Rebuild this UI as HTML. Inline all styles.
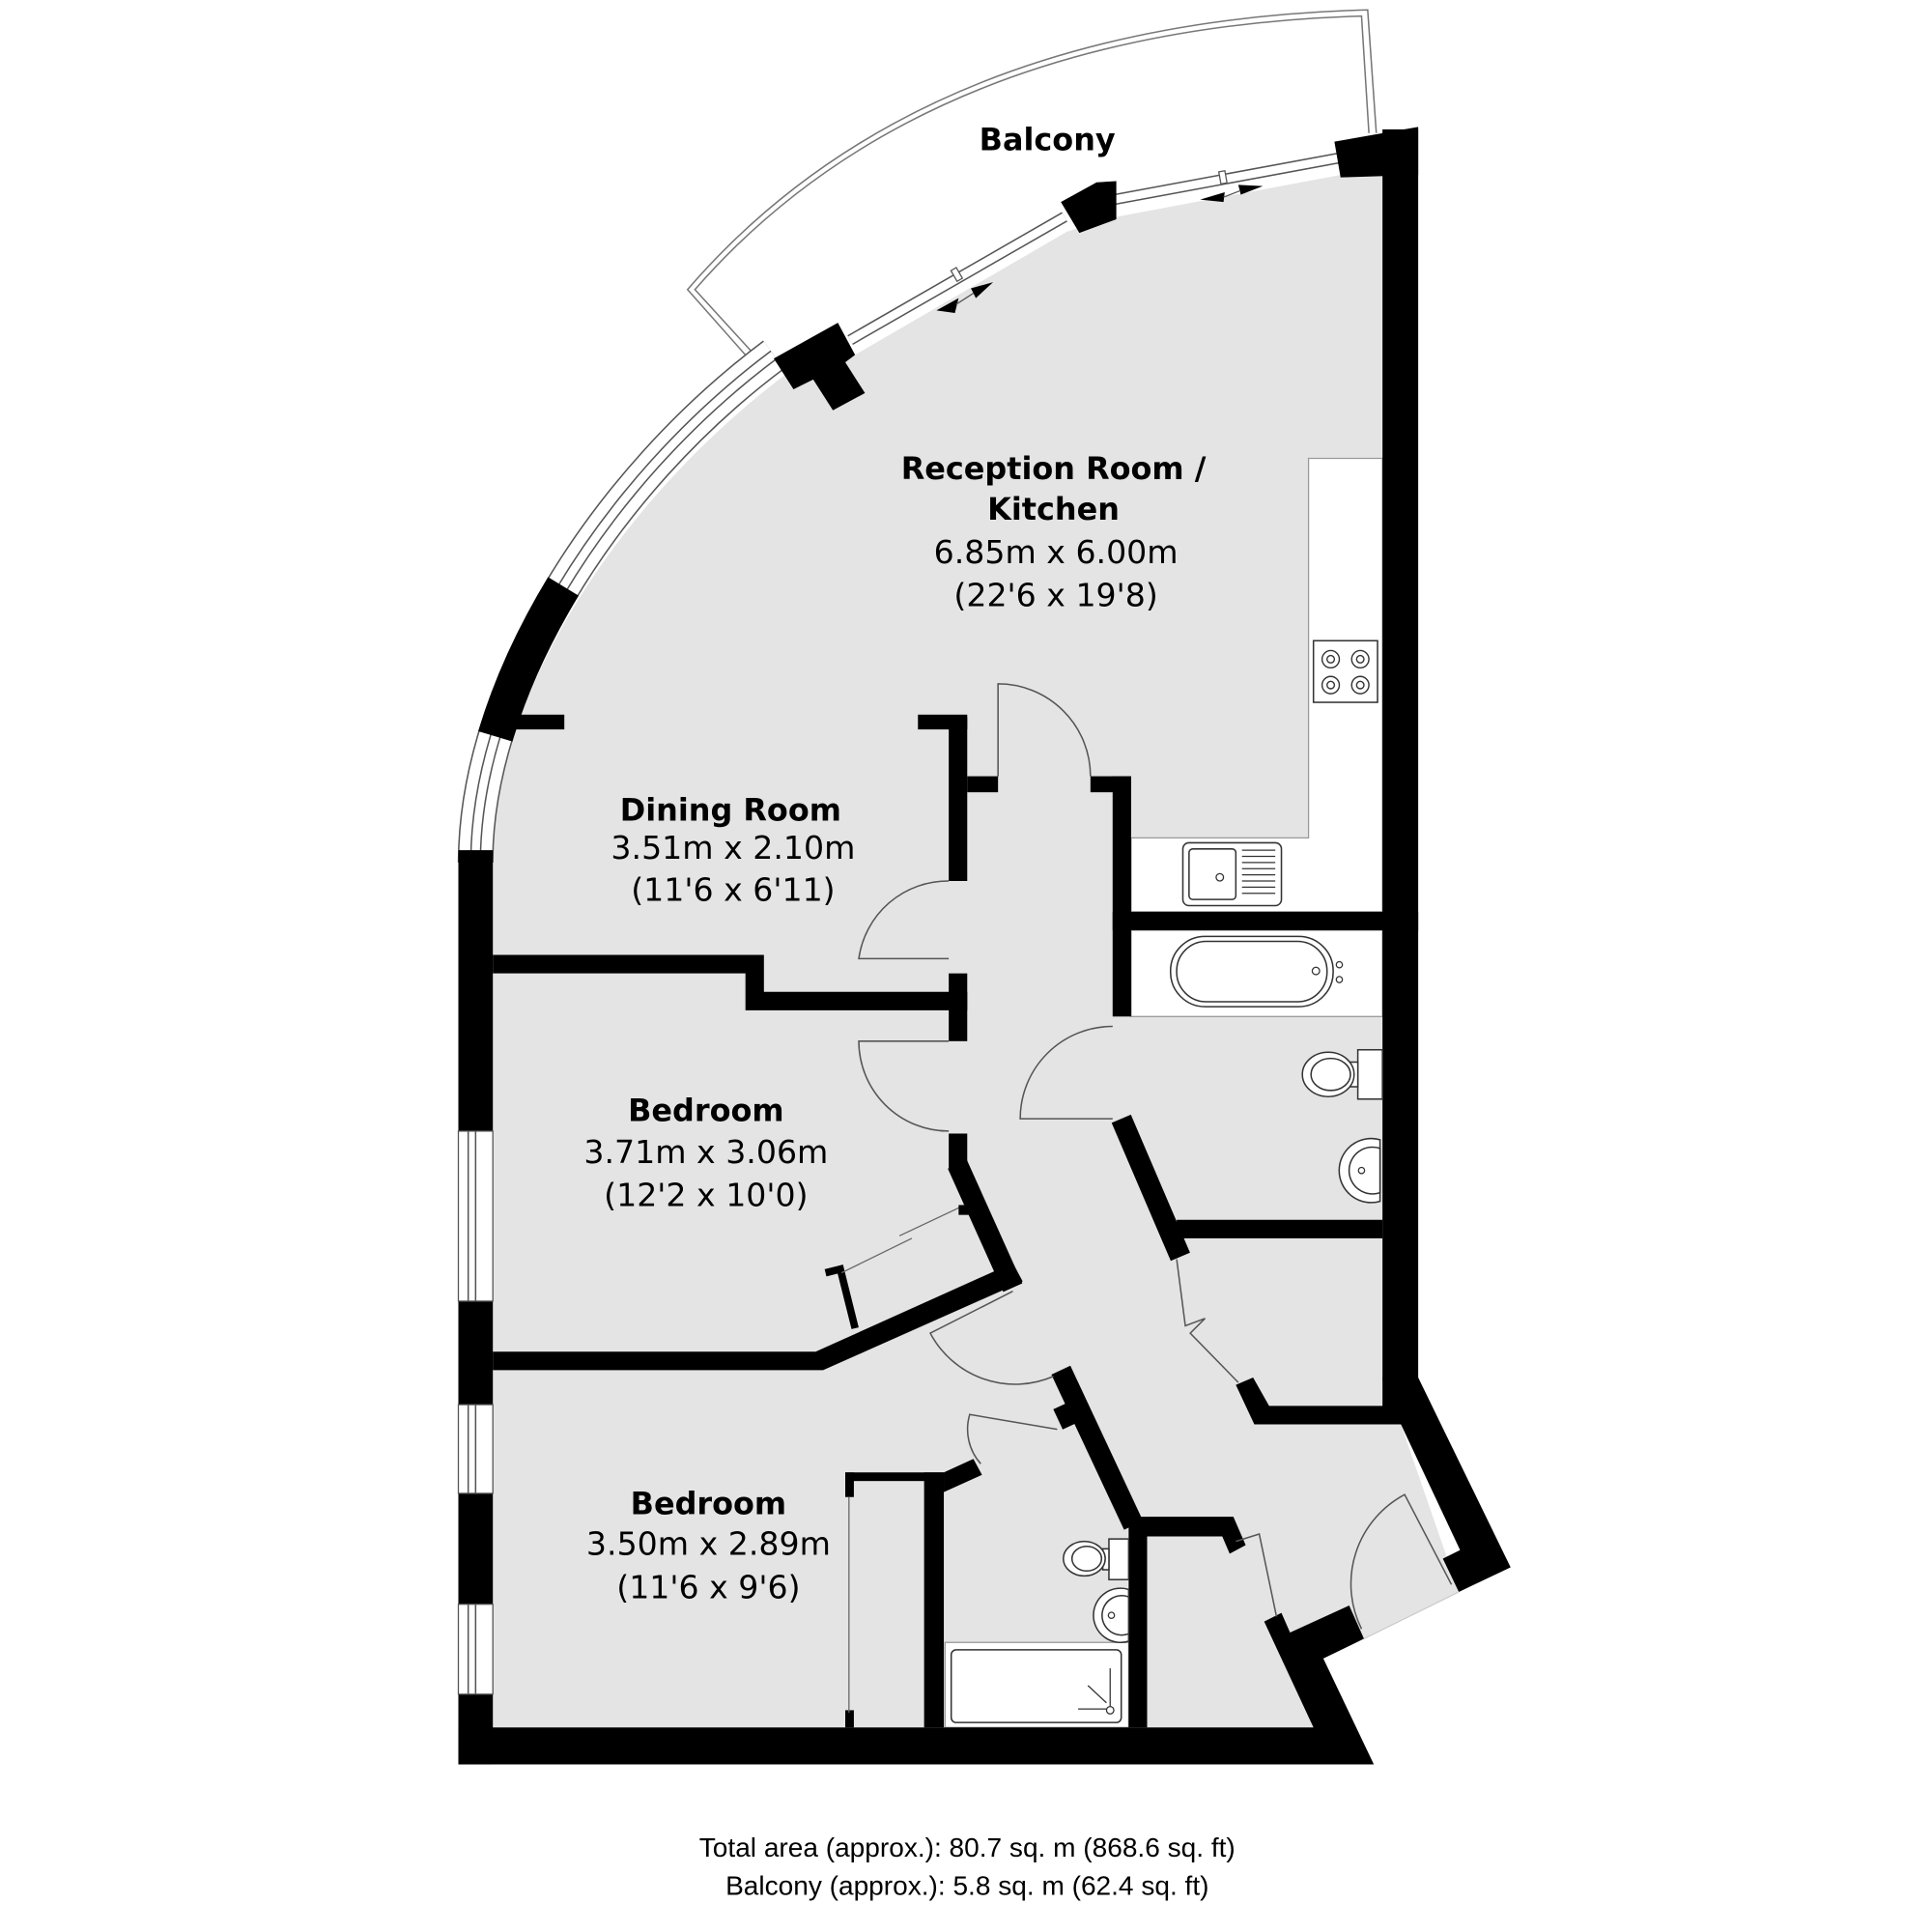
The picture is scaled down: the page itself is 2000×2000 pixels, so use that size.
<!DOCTYPE html>
<html><head><meta charset="utf-8">
<style>
html,body{margin:0;padding:0;background:#fff;}
svg{display:block;}
.t{font-family:"DejaVu Sans","Liberation Sans",sans-serif;fill:#000;text-anchor:middle;}
.b{font-weight:bold;font-size:25px;}
.n{font-size:26px;}
.f{font-family:"Liberation Sans",Arial,sans-serif;font-size:22px;fill:#000;text-anchor:middle;}
.th{fill:none;stroke:#555;stroke-width:1.2;}
.fx{fill:#fff;stroke:#333;stroke-width:1.2;}
</style></head>
<body>
<svg width="2000" height="2000" viewBox="0 0 1568 1568" xmlns="http://www.w3.org/2000/svg">
<rect width="1568" height="1568" fill="#fff"/>

<!-- balcony -->
<path d="M612,296 L558,235 Q745,18 1110,8 L1117,108" fill="none" stroke="#777" stroke-width="1.2"/>
<path d="M617,293 L564,235 Q748,24 1105,13 L1111,108" fill="none" stroke="#777" stroke-width="1.2"/>

<!-- floor -->
<path d="M400,700 C400,562 503,405 640,302 L694,288 L866,188 L906,176 L1088,142 L1122,142 L1122,1156 L1137,1156 L1184,1292 L1107,1330 L1074,1346 L1066,1402 L400,1402 Z" fill="#e4e4e4"/>

<!-- white zones -->
<path d="M1062,372 L1122,372 L1122,740 L918,740 L918,680 L1062,680 Z" fill="#fff" stroke="#999" stroke-width="1"/>
<rect x="918" y="755" width="204" height="70" fill="#fff" stroke="#999" stroke-width="1"/>
<rect x="767" y="1333" width="149" height="69" fill="#fff" stroke="#999" stroke-width="1"/>

<!-- curved lower wall with windows -->
<path id="cw" d="M386,700 C386,558 489,392 628,288" fill="none" stroke="#555" stroke-width="29"/>
<path d="M386,700 C386,558 489,392 628,288" fill="none" stroke="#fff" stroke-width="26.6"/>
<path d="M386,700 C386,558 489,392 628,288" fill="none" stroke="#555" stroke-width="9"/>
<path d="M386,700 C386,558 489,392 628,288" fill="none" stroke="#fff" stroke-width="6.6"/>
<path d="M386,700 C386,558 489,392 628,288" fill="none" stroke="#000" stroke-width="29" stroke-dasharray="0 104 134 600"/>

<!-- upper straight window runs -->
<line x1="690" y1="276" x2="864" y2="176" stroke="#555" stroke-width="9"/>
<line x1="690" y1="276" x2="864" y2="176" stroke="#fff" stroke-width="6.6"/>
<line x1="904" y1="162" x2="1088" y2="128" stroke="#555" stroke-width="9"/>
<line x1="904" y1="162" x2="1088" y2="128" stroke="#fff" stroke-width="6.6"/>
<rect x="774" y="218" width="5" height="10" fill="#fff" stroke="#555" stroke-width="1" transform="rotate(-30 776 223)"/>
<rect x="990" y="139" width="5" height="10" fill="#fff" stroke="#555" stroke-width="1" transform="rotate(-10 992 144)"/>

<!-- blocks -->
<polygon points="628,291 680,262 694,288 686,294 702,319 676,333 660,308 644,316" fill="#000"/>
<polygon points="861,164 890,148 906,147 906,178 876,189" fill="#000"/>
<polygon points="1083,115 1151,103 1151,142 1088,144" fill="#000"/>
<!-- door arrows -->
<polygon points="760,252 778,242 775,254" fill="#000"/>
<polygon points="806,229 788,234 792,242" fill="#000"/>
<line x1="776" y1="247" x2="790" y2="238" stroke="#555" stroke-width="1"/>
<polygon points="974,162 994,156 993,164" fill="#000"/>
<polygon points="1025,151 1005,150 1007,158" fill="#000"/>
<line x1="993" y1="160" x2="1006" y2="155" stroke="#555" stroke-width="1"/>

<!-- right wall -->
<rect x="1122" y="105" width="29" height="1015" fill="#000"/>
<polygon points="1151,1118 1226,1272 1184,1292 1171,1265 1185,1258 1137,1156 1122,1156 1122,1118" fill="#000"/>
<polygon points="1003,1124 1017,1118 1030,1141 1137,1141 1137,1156 1018,1156" fill="#000"/>
<polygon points="1026,1316 1040,1309 1047,1325 1095,1303 1107,1330 1074,1346 1115,1432 372,1432 372,1402 1066,1402" fill="#000"/>

<!-- left straight wall -->
<rect x="372" y="690" width="28" height="742" fill="#000"/>
<g>
<rect x="372" y="918" width="28" height="138" fill="#fff" stroke="#555" stroke-width="1"/>
<line x1="380" y1="918" x2="380" y2="1056" class="th"/><line x1="386" y1="918" x2="386" y2="1056" class="th"/>
<rect x="372" y="1140" width="28" height="72" fill="#fff" stroke="#555" stroke-width="1"/>
<line x1="380" y1="1140" x2="380" y2="1212" class="th"/><line x1="386" y1="1140" x2="386" y2="1212" class="th"/>
<rect x="372" y="1302" width="28" height="73" fill="#fff" stroke="#555" stroke-width="1"/>
<line x1="380" y1="1302" x2="380" y2="1375" class="th"/><line x1="386" y1="1302" x2="386" y2="1375" class="th"/>
</g>
<rect x="418" y="580" width="40" height="12" fill="#000"/>

<!-- dining/hall walls -->
<rect x="770" y="582" width="15" height="133" fill="#000"/>
<rect x="745" y="580" width="40" height="12" fill="#000"/>
<rect x="785" y="630" width="25" height="13" fill="#000"/>
<polygon points="400,775 620,775 620,805 785,805 785,820 605,820 605,790 400,790" fill="#000"/>
<rect x="770" y="790" width="15" height="55" fill="#000"/>
<rect x="770" y="920" width="15" height="28" fill="#000"/>
<line x1="777" y1="945" x2="822" y2="1045" stroke="#000" stroke-width="17"/>
<polygon points="400,1097 662,1097 822,1025 830,1040 668,1112 400,1112" fill="#000"/>
<polyline points="670,1033 682,1030 694,1078" fill="none" stroke="#000" stroke-width="6"/>
<line x1="683" y1="1033" x2="740" y2="1005" stroke="#666" stroke-width="1"/>
<line x1="730" y1="1003" x2="783" y2="978" stroke="#666" stroke-width="1"/>
<rect x="778" y="978" width="10" height="8" fill="#000"/>

<!-- kitchen/hall -->
<rect x="903" y="630" width="15" height="195" fill="#000"/>
<rect x="885" y="630" width="33" height="13" fill="#000"/>
<rect x="903" y="740" width="248" height="15" fill="#000"/>
<line x1="910" y1="908" x2="958" y2="1020" stroke="#000" stroke-width="17"/>
<rect x="955" y="990" width="167" height="15" fill="#000"/>
<polyline points="955,1022 962,1076 978,1070 966,1082 1005,1122" class="th"/>

<!-- ensuite -->
<line x1="861" y1="1112" x2="920" y2="1238" stroke="#000" stroke-width="17"/>
<rect x="858" y="1140" width="14" height="18" fill="#000" transform="rotate(-25 865 1149)"/>
<rect x="916" y="1231" width="15" height="171" fill="#000"/>
<polygon points="916,1231 1001,1231 1011,1254 998,1261 992,1247 931,1247 931,1231" fill="#000"/>
<rect x="750" y="1195" width="16" height="207" fill="#000"/>
<rect x="686" y="1195" width="80" height="7" fill="#000"/>
<polygon points="766,1195 790,1184 797,1197 766,1211" fill="#000"/>
<rect x="686" y="1195" width="7" height="20" fill="#000"/>
<rect x="686" y="1388" width="7" height="14" fill="#000"/>
<line x1="689" y1="1215" x2="689" y2="1390" stroke="#666" stroke-width="1"/>

<!-- doors -->
<path d="M810,630 L810,555 A75,75 0 0 1 885,630" class="th"/>
<path d="M770,778 L697,778 A73,73 0 0 1 770,715" class="th"/>
<path d="M770,845 L697,845 A73,73 0 0 0 770,918" class="th"/>
<path d="M903,908 L828,908 A75,75 0 0 1 903,833" class="th"/>
<path d="M822,1048 L755,1082 A78,78 0 0 0 855,1117" class="th"/>
<path d="M858,1160 L787,1148 A42,42 0 0 0 796,1188" class="th"/>
<polyline points="1003,1251 1022,1245 1036,1312" class="th"/>
<path d="M1178,1286 L1140,1213 A82,82 0 0 0 1105,1322" class="th"/>
<path d="M1107,1330 L1184,1292" stroke="#ccc" stroke-width="1" fill="none"/>

<!-- hob -->
<rect x="1066" y="520" width="52" height="50" class="fx"/>
<g fill="none" stroke="#333" stroke-width="1.1">
<circle cx="1080" cy="535" r="7"/><circle cx="1080" cy="535" r="3"/>
<circle cx="1104" cy="535" r="7"/><circle cx="1104" cy="535" r="3"/>
<circle cx="1080" cy="556" r="7"/><circle cx="1080" cy="556" r="3"/>
<circle cx="1104" cy="556" r="7"/><circle cx="1104" cy="556" r="3"/>
</g>
<!-- sink -->
<rect x="960" y="684" width="80" height="51" rx="5" class="fx"/>
<rect x="965" y="689" width="38" height="41" rx="3" class="fx"/>
<circle cx="990" cy="712" r="3" fill="none" stroke="#333"/>
<g stroke="#333" stroke-width="1">
<line x1="1008" y1="690" x2="1035" y2="690"/><line x1="1008" y1="695" x2="1035" y2="695"/>
<line x1="1008" y1="700" x2="1035" y2="700"/><line x1="1008" y1="705" x2="1035" y2="705"/>
<line x1="1008" y1="710" x2="1035" y2="710"/><line x1="1008" y1="715" x2="1035" y2="715"/>
<line x1="1008" y1="720" x2="1035" y2="720"/><line x1="1008" y1="725" x2="1035" y2="725"/>
</g>
<!-- bath main -->
<rect x="950" y="760" width="132" height="57" rx="28" class="fx"/>
<rect x="955" y="764" width="122" height="49" rx="24" class="fx"/>
<circle cx="1068" cy="788" r="3" fill="none" stroke="#333"/>
<circle cx="1087" cy="783" r="2.5" fill="none" stroke="#333"/><circle cx="1087" cy="795" r="2.5" fill="none" stroke="#333"/>
<!-- toilet main -->
<rect x="1102" y="852" width="20" height="40" class="fx"/>
<rect x="1095" y="862" width="7" height="20" class="fx"/>
<ellipse cx="1078" cy="872" rx="21" ry="18" class="fx"/>
<ellipse cx="1080" cy="872" rx="16" ry="13" class="fx"/>
<!-- basin main -->
<path d="M1120,925 A26,26 0 1 0 1120,975 Z" class="fx"/>
<path d="M1120,932 A19,19 0 1 0 1120,968 Z" class="fx"/>
<circle cx="1105" cy="950" r="2.5" fill="none" stroke="#333"/>

<!-- ensuite fixtures -->
<rect x="900" y="1249" width="16" height="33" class="fx"/>
<rect x="895" y="1257" width="5" height="17" class="fx"/>
<ellipse cx="880" cy="1265" rx="17" ry="14" class="fx"/>
<ellipse cx="882" cy="1265" rx="12" ry="10" class="fx"/>
<path d="M916,1290 A22,22 0 1 0 916,1332 Z" class="fx"/>
<path d="M916,1296 A16,16 0 1 0 916,1326 Z" class="fx"/>
<circle cx="902" cy="1311" r="2.5" fill="none" stroke="#333"/>
<rect x="772" y="1339" width="138" height="59" rx="4" class="fx"/>
<g stroke="#333" stroke-width="1" fill="none">
<line x1="901" y1="1354" x2="901" y2="1385"/><line x1="875" y1="1387" x2="898" y2="1387"/>
<line x1="883" y1="1368" x2="898" y2="1382"/><circle cx="901" cy="1388" r="3"/>
</g>

<!-- labels -->
<text class="t b" x="850" y="122">Balcony</text>
<text class="t b" x="855" y="389">Reception Room /</text>
<text class="t b" x="855" y="422">Kitchen</text>
<text class="t n" x="857" y="457">6.85m x 6.00m</text>
<text class="t n" x="857" y="492">(22'6 x 19'8)</text>
<text class="t b" x="593" y="666">Dining Room</text>
<text class="t n" x="595" y="697">3.51m x 2.10m</text>
<text class="t n" x="595" y="731">(11'6 x 6'11)</text>
<text class="t b" x="573" y="910">Bedroom</text>
<text class="t n" x="573" y="944">3.71m x 3.06m</text>
<text class="t n" x="573" y="979">(12'2 x 10'0)</text>
<text class="t b" x="575" y="1229">Bedroom</text>
<text class="t n" x="575" y="1262">3.50m x 2.89m</text>
<text class="t n" x="575" y="1297">(11'6 x 9'6)</text>

<text class="f" x="785" y="1507">Total area (approx.): 80.7 sq. m (868.6 sq. ft)</text>
<text class="f" x="785" y="1538">Balcony (approx.): 5.8 sq. m (62.4 sq. ft)</text>
</svg>
</body></html>
